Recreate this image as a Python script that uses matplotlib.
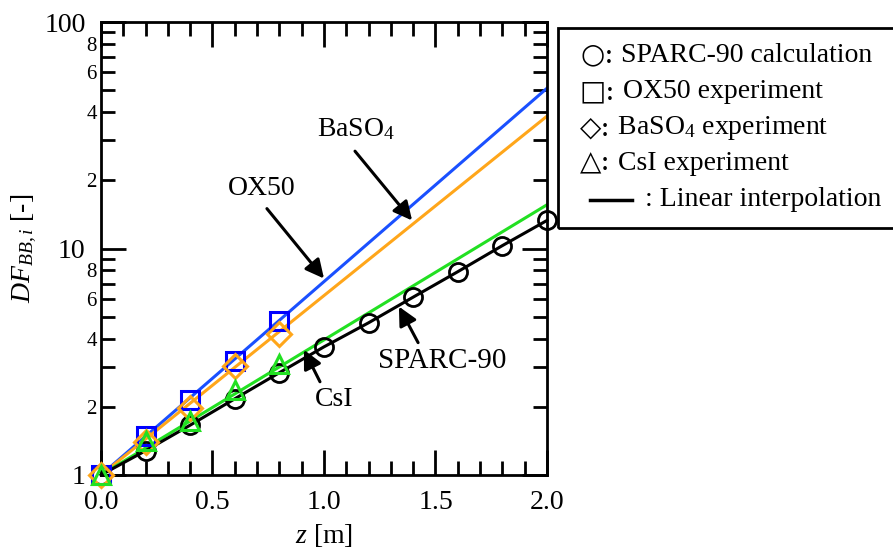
import matplotlib
matplotlib.use("Agg")
import matplotlib.pyplot as plt
from matplotlib.lines import Line2D
from matplotlib.patches import Rectangle
from matplotlib.ticker import MultipleLocator, FixedLocator, FixedFormatter

plt.rcParams['font.family'] = ['Liberation Serif', 'DejaVu Sans']
plt.rcParams['mathtext.fontset'] = 'custom'
plt.rcParams['mathtext.rm'] = 'Liberation Serif'
plt.rcParams['mathtext.it'] = 'Liberation Serif:italic'

# SPARC-90 calculation (circles, joined)
z_calc = [0.0, 0.2, 0.4, 0.6, 0.8, 1.0, 1.2, 1.4, 1.6, 1.8, 2.0]
df_calc = [1.0, 1.28, 1.66, 2.17, 2.83, 3.68, 4.7, 6.1, 7.9, 10.3, 13.3]

# experiments
z_exp = [0.0, 0.2, 0.4, 0.6, 0.8]
df_ox50 = [1.0, 1.49, 2.15, 3.2, 4.8]
df_baso4 = [1.0, 1.40, 1.98, 3.03, 4.2]
df_csi = [1.0, 1.41, 1.73, 2.38, 3.1]

# fitted lines (start / end values)
z_fit = [0.0, 2.0]
fit_ox50 = [1.0, 51.0]
fit_baso4 = [1.0, 38.4]
fit_csi = [1.0, 15.6]

blue_line = '#1a50ff'
blue_mk = '#0000ff'
orange = '#ffa61a'
green = '#22e022'

fig = plt.figure(figsize=(8.93, 5.51), dpi=100)
ax = fig.add_axes([101/893, 1 - 475/551, 446/893, 453/551])

ax.plot(z_calc, df_calc, color='k', lw=2.2, marker='o', ms=13, mfc='none', mew=2, zorder=3, clip_on=False)
ax.plot(z_fit, fit_ox50, color=blue_line, lw=2.2, zorder=2)
ax.plot(z_fit, fit_baso4, color=orange, lw=2.2, zorder=2)
ax.plot(z_fit, fit_csi, color=green, lw=2.2, zorder=2)
ax.plot(z_exp, df_ox50, ls='none', marker='s', ms=13, mfc='none', mec=blue_mk, mew=2.2, zorder=4, clip_on=False)
ax.plot(z_exp, df_baso4, ls='none', marker='D', ms=12, mfc='none', mec=orange, mew=2.2, zorder=5, clip_on=False)
ax.plot(z_exp, df_csi, ls='none', marker='^', ms=13, mfc='none', mec=green, mew=2.2, zorder=6, clip_on=False)

ax.set_yscale('log')
ax.set_xlim(0, 2.0)
ax.set_ylim(1, 100)
ax.xaxis.set_major_locator(MultipleLocator(0.5))
ax.xaxis.set_minor_locator(MultipleLocator(0.1))
ax.xaxis.set_major_formatter(plt.FuncFormatter(lambda v, p: f'{v:.1f}'))
ax.yaxis.set_major_locator(FixedLocator([1, 10, 100]))
ax.yaxis.set_major_formatter(FixedFormatter(['1', '10', '100']))
minor_vals = [2, 3, 4, 5, 6, 7, 8, 9, 20, 30, 40, 50, 60, 70, 80, 90]
minor_labels = ['2', '', '4', '', '6', '', '8', '', '2', '', '4', '', '6', '', '8', '']
ax.yaxis.set_minor_locator(FixedLocator(minor_vals))
ax.yaxis.set_minor_formatter(FixedFormatter(minor_labels))

ax.tick_params(which='both', direction='in', top=True, right=True, width=2)
ax.tick_params(which='major', length=18, labelsize=20)
ax.tick_params(which='minor', length=10)
ax.tick_params(axis='x', which='major', pad=11)
ax.tick_params(axis='y', which='major', pad=11)
ax.tick_params(axis='y', which='minor', labelsize=15, pad=3)
for s in ax.spines.values():
    s.set_linewidth(2)

ax.set_xlabel('$z$ [m]', fontsize=20, labelpad=5)
ax.set_ylabel('$DF_{BB,i}$ [-]', fontsize=20, labelpad=4)

arrow = dict(arrowstyle='-|>', color='k', lw=2.2, mutation_scale=28, shrinkA=0, shrinkB=0)
ax.text(1.143, 33.6, 'BaSO$_4$', fontsize=20, ha='center', va='center')
ax.annotate('', xy=(1.395, 13.3), xytext=(1.139, 26.9), arrowprops=arrow)
ax.text(0.722, 18.4, 'OX50', fontsize=20, ha='center', va='center')
ax.annotate('', xy=(1.0, 7.37), xytext=(0.744, 15.0), arrowprops=arrow)
ax.text(1.045, 2.15, 'CsI', fontsize=20, ha='center', va='center')
ax.annotate('', xy=(0.910, 3.57), xytext=(0.982, 2.58), arrowprops=arrow)
ax.text(1.529, 3.19, 'SPARC-90', fontsize=21, ha='center', va='center')
ax.annotate('', xy=(1.336, 5.54), xytext=(1.422, 3.84), arrowprops=arrow)

# legend box drawn as text (symbol glyphs + labels)
W, H = 893, 551
fig.patches.append(Rectangle((558/W, 1 - 228/H), 340/W, 200/H, transform=fig.transFigure,
                             fill=False, lw=2, ec='k'))
legend_syms = ['\u25cb:', '\u25a1:', '\u25c7:', '\u25b3:']
legend_text = [' SPARC-90 calculation', ' OX50 experiment', ' BaSO$_4$ experiment', ' CsI experiment']
legend_y = [55, 92, 128, 163]
for s, t, y in zip(legend_syms, legend_text, legend_y):
    sym = fig.text(580/W, 1 - y/H, s, fontsize=20, ha='left', va='center',
                   family=['DejaVu Serif', 'DejaVu Sans'])
    fig.add_artist(plt.Annotation(t, xy=(1, 0.5), xycoords=sym, xytext=(0, 0),
                                  textcoords='offset points', fontsize=20, ha='left', va='center'))
fig.lines.append(Line2D([590/W, 632/W], [1 - 200/H, 1 - 200/H], transform=fig.transFigure,
                        color='k', lw=2.5))
fig.text(645/W, 1 - 200/H, ': Linear interpolation', fontsize=20, ha='left', va='center')

fig.savefig('out.png', dpi=100)
